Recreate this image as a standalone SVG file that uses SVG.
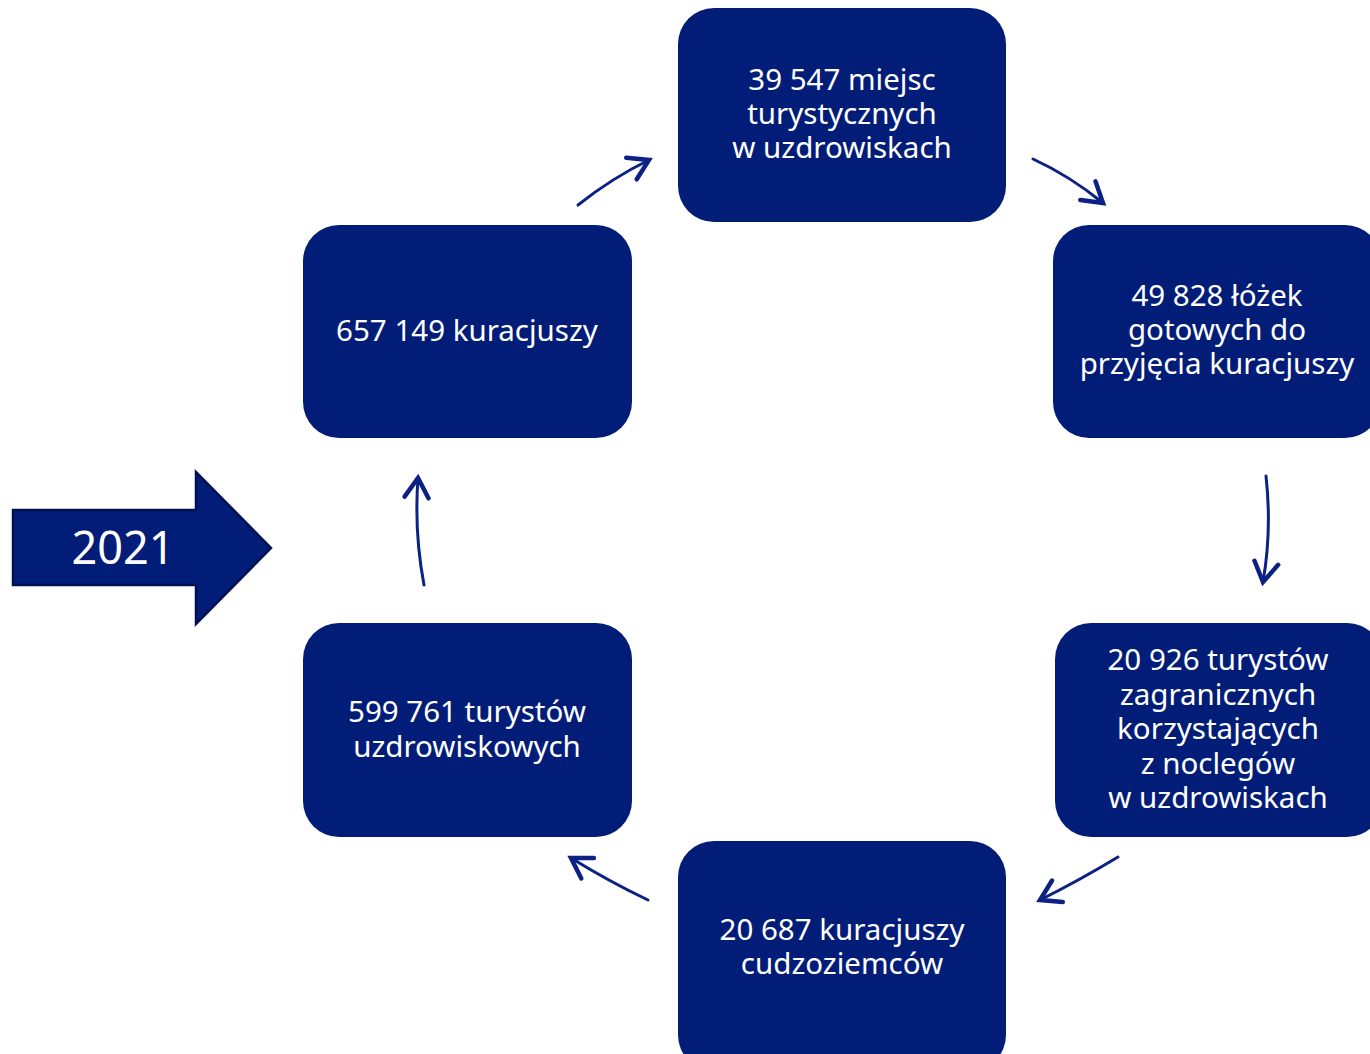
<svg xmlns="http://www.w3.org/2000/svg" width="1370" height="1054" viewBox="0 0 1370 1054">
<defs>
<style>
.node{fill:#021d77;}
.t{font-family:"Noto Sans","Open Sans",sans-serif;font-size:29.5px;fill:#ffffff;text-anchor:middle;}
.c{fill:none;stroke:#0b2183;stroke-width:3;stroke-linecap:round;}
</style>
<marker id="ah" markerUnits="userSpaceOnUse" markerWidth="30" markerHeight="30" refX="0" refY="0" viewBox="-16 -10 20 20" orient="auto" overflow="visible">
<path d="M-13,-8 L0,0 L-13,8" fill="none" stroke="#0b2183" stroke-width="3" stroke-linecap="round" stroke-linejoin="miter"/>
</marker>
</defs>
<rect width="1370" height="1054" fill="#ffffff"/>
<g id="arrow2021">
<path d="M13,510 L196,510 L196,472 L271,548 L196,624 L196,585 L13,585 Z" fill="#021d77" stroke="#00114f" stroke-width="2.5"/>
<text x="123" y="564" style="font-family:'Noto Sans','Open Sans',sans-serif;font-size:45px;fill:#ffffff;text-anchor:middle;">2021</text>
</g>
<g id="n-top">
<rect class="node" x="678" y="8" width="328" height="214" rx="36"/>
<text class="t" x="842" y="90"><tspan x="842">39 547 miejsc</tspan><tspan x="842" dy="34">turystycznych</tspan><tspan x="842" dy="34">w uzdrowiskach</tspan></text>
</g>
<g id="n-right1">
<rect class="node" x="1053" y="225" width="328" height="213" rx="36"/>
<text class="t" x="1217" y="306"><tspan x="1217">49 828 łóżek</tspan><tspan x="1217" dy="34">gotowych do</tspan><tspan x="1217" dy="34">przyjęcia kuracjuszy</tspan></text>
</g>
<g id="n-right2">
<rect class="node" x="1055" y="623" width="328" height="214" rx="36"/>
<text class="t" x="1218" y="670"><tspan x="1218">20 926 turystów</tspan><tspan x="1218" dy="34.5">zagranicznych</tspan><tspan x="1218" dy="34.5">korzystających</tspan><tspan x="1218" dy="34.5">z noclegów</tspan><tspan x="1218" dy="34.5">w uzdrowiskach</tspan></text>
</g>
<g id="n-bottom">
<rect class="node" x="678" y="841" width="328" height="230" rx="36"/>
<text class="t" x="842" y="940"><tspan x="842">20 687 kuracjuszy</tspan><tspan x="842" dy="34">cudzoziemców</tspan></text>
</g>
<g id="n-leftbottom">
<rect class="node" x="303" y="623" width="329" height="214" rx="36"/>
<text class="t" x="467" y="722"><tspan x="467">599 761 turystów</tspan><tspan x="467" dy="35">uzdrowiskowych</tspan></text>
</g>
<g id="n-lefttop">
<rect class="node" x="303" y="225" width="329" height="213" rx="36"/>
<text class="t" x="467" y="341">657 149 kuracjuszy</text>
</g>
<g id="connectors">
<path class="c" d="M578,205 Q612,178 649,160" marker-end="url(#ah)"/>
<path class="c" d="M1033,159 Q1070,176 1103,203" marker-end="url(#ah)"/>
<path class="c" d="M1266,476 Q1272,530 1263,582" marker-end="url(#ah)"/>
<path class="c" d="M1118,857 Q1080,880 1040,900" marker-end="url(#ah)"/>
<path class="c" d="M648,900 Q610,882 571,858" marker-end="url(#ah)"/>
<path class="c" d="M424,585 Q414,532 418,478" marker-end="url(#ah)"/>
</g>
</svg>
